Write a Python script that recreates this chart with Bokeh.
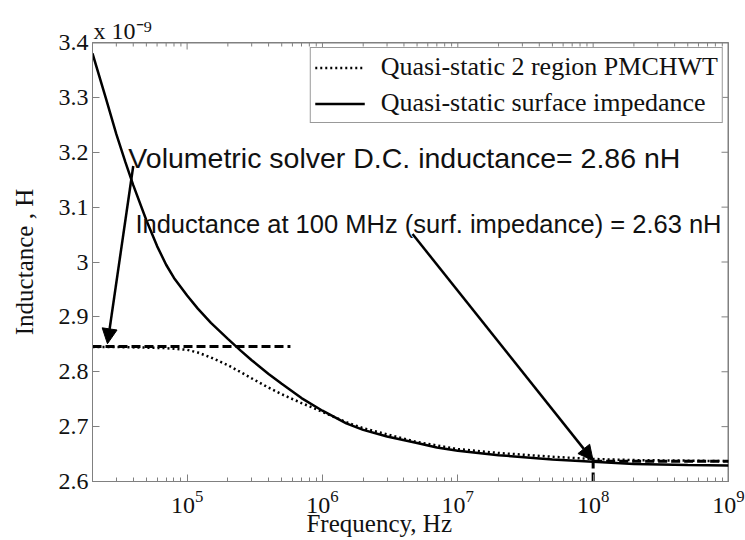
import math
from bokeh.plotting import figure
from bokeh.models import (FixedTicker, LogTicker, CustomJSTickFormatter,
                          Label, Arrow, NormalHead, Range1d, Title)
from bokeh.embed import file_html
from bokeh.resources import INLINE

# ---------------- data (inductance in units of 1e-9 H) ----------------
freq = [2e4, 2.5e4, 3e4, 3.5e4, 4e4, 5e4, 6e4, 7e4, 8e4, 1e5, 1.2e5, 1.5e5, 2e5, 2.5e5,
        3e5, 4e5, 5e5, 7e5, 1e6, 1.5e6, 2e6, 3e6, 5e6, 7e6, 1e7, 2e7, 5e7, 1e8, 2e8,
        5e8, 1e9]
surface_impedance = [3.380, 3.300, 3.233, 3.182, 3.140, 3.076, 3.029, 2.995, 2.971, 2.939,
                     2.915, 2.889, 2.860, 2.838, 2.821, 2.796, 2.778, 2.752, 2.729, 2.706,
                     2.694, 2.682, 2.670, 2.662, 2.656, 2.648, 2.640, 2.636, 2.632, 2.630,
                     2.629]

pmchwt_freq = [2e4, 3e4, 5e4, 7e4, 8e4, 1e5, 1.2e5, 1.5e5, 2e5, 2.5e5, 3e5, 4e5, 5e5,
               7e5, 1e6, 1.5e6, 2e6, 5e6, 1e7, 2e7, 5e7, 1e8, 2e8, 5e8, 1e9]
pmchwt = [2.845, 2.845, 2.844, 2.843, 2.842, 2.840, 2.835, 2.826, 2.812, 2.799, 2.788,
          2.771, 2.759, 2.743, 2.727, 2.708, 2.697, 2.672, 2.659, 2.652, 2.645, 2.641,
          2.639, 2.638, 2.637]

dc_freq = [2e4, 5.8e5]
dc_level = [2.846, 2.846]
hf_freq = [1e8, 1e9]
hf_level = [2.637, 2.637]
mark_freq = [1e8, 1e8]
mark_level = [2.6, 2.636]

y_ticks = [2.6, 2.7, 2.8, 2.9, 3.0, 3.1, 3.2, 3.3, 3.4]
x_major_ticks = [1e5, 1e6, 1e7, 1e8, 1e9]
x_limits = (2e4, 1e9)
y_limits = (2.6, 3.4)

legend_labels = ["Quasi-static 2 region PMCHWT", "Quasi-static surface impedance"]
note_dc = "Volumetric solver D.C. inductance= 2.86 nH"
note_hf = "Inductance at 100 MHz (surf. impedance) = 2.63 nH"
note_dc_pos = (3.68e4, 3.189)
note_hf_pos = (4.15e4, 3.069)
arrow_dc = ((4.0e4, 3.175), (2.58e4, 2.851))
arrow_hf = ((4.63e6, 3.051), (1e8, 2.638))
scale_text = "x 10\u207b\u2079"
x_title = "Frequency, Hz"
y_title = "Inductance , H"

SERIF = "Liberation Serif"
SANS = "Liberation Sans"
AX = "#808080"
INK = "#111111"

p = figure(width=745, height=540, x_axis_type="log", output_backend="svg",
           toolbar_location=None, title=None,
           x_range=Range1d(*x_limits), y_range=Range1d(*y_limits),
           min_border_left=92, min_border_right=17, min_border_top=42, min_border_bottom=59)
p.outline_line_color = AX
p.grid.visible = False


def style_axis(ax):
    ax.axis_line_color = AX
    ax.major_tick_line_color = AX
    ax.minor_tick_line_color = AX
    ax.major_tick_in = 7
    ax.major_tick_out = 0
    ax.minor_tick_in = 4
    ax.minor_tick_out = 0
    ax.major_label_text_font = SERIF
    ax.major_label_text_font_size = "24px"
    ax.major_label_text_color = INK


xa = p.xaxis[0]
xa.ticker = LogTicker(num_minor_ticks=10)
style_axis(xa)
xa.major_label_standoff = 9
xa.axis_label = x_title + "\u00a0" * 10
xa.axis_label_text_font = SERIF
xa.axis_label_text_font_size = "25px"
xa.axis_label_text_font_style = "normal"
xa.axis_label_text_color = INK
xa.axis_label_standoff = -6

ya = p.yaxis[0]
ya.ticker = FixedTicker(ticks=y_ticks)
ya.formatter = CustomJSTickFormatter(code="return String(Number(tick.toFixed(1)));")
style_axis(ya)
ya.major_label_standoff = 4
ya.axis_label = y_title
ya.axis_label_text_font = SERIF
ya.axis_label_text_font_size = "25px"
ya.axis_label_text_font_style = "normal"
ya.axis_label_text_color = INK
ya.axis_label_standoff = 18

# ---- top and right edges of the box, with inward ticks (drawn as glyphs) ----
p.line([x_limits[0], x_limits[1]], [y_limits[1], y_limits[1]], line_color=AX, line_width=2)
p.line([x_limits[1], x_limits[1]], [y_limits[0], y_limits[1]], line_color=AX, line_width=2)
top_major = [t for t in x_major_ticks if x_limits[0] <= t <= x_limits[1]]
top_minor = [k * t / 10 for t in x_major_ticks for k in range(2, 10)
             if x_limits[0] <= k * t / 10 < x_limits[1]]
p.ray(x=top_major, y=[y_limits[1]] * len(top_major), length=7, length_units="screen",
      angle=-math.pi / 2, line_color=AX, line_width=1)
p.ray(x=top_minor, y=[y_limits[1]] * len(top_minor), length=4, length_units="screen",
      angle=-math.pi / 2, line_color=AX, line_width=1)
p.ray(x=[x_limits[1]] * len(y_ticks), y=y_ticks, length=7, length_units="screen",
      angle=math.pi, line_color=AX, line_width=1)

# "x 10^-9" multiplier above the frame
mult = Title(text=scale_text, align="left", offset=1, standoff=0,
             text_font=SERIF, text_font_size="24px", text_font_style="normal",
             text_color=INK)
try:
    mult.standoff = -3
except Exception:
    mult.standoff = 0
p.add_layout(mult, "above")

# curves
p.line(pmchwt_freq, pmchwt, line_color="black", line_width=2.5, line_dash="2 3",
       legend_label=legend_labels[0])
p.line(freq, surface_impedance, line_color="black", line_width=2.5,
       legend_label=legend_labels[1])

# dashed reference lines
p.line(dc_freq, dc_level, line_color="black", line_width=3, line_dash="9 4")
p.line(hf_freq, hf_level, line_color="black", line_width=3, line_dash="9 4")
p.line(mark_freq, mark_level, line_color="black", line_width=3, line_dash="9 4")

# arrows
for (s, e) in (arrow_dc, arrow_hf):
    p.add_layout(Arrow(x_start=s[0], y_start=s[1], x_end=e[0], y_end=e[1],
                       line_color="black", line_width=2.5,
                       end=NormalHead(size=15, fill_color="black", line_color="black")))

# annotation texts
for txt, pos, fs in ((note_dc, note_dc_pos, "28.5px"), (note_hf, note_hf_pos, "25.5px")):
    p.add_layout(Label(x=pos[0], y=pos[1], text=txt, text_font=SANS, text_font_size=fs,
                       text_color=INK, text_baseline="alphabetic", text_align="left"))

lg = p.legend[0]
lg.location = "top_right"
lg.margin = 5
lg.padding = 4
lg.spacing = 6
lg.glyph_width = 50
lg.glyph_height = 25
lg.label_height = 25
lg.label_standoff = 16
lg.label_text_font = SERIF
lg.label_text_font_size = "26px"
lg.label_text_color = INK
lg.border_line_color = "#333333"
lg.border_line_width = 1
lg.background_fill_alpha = 1

open("out.html", "w").write(file_html(p, INLINE))
